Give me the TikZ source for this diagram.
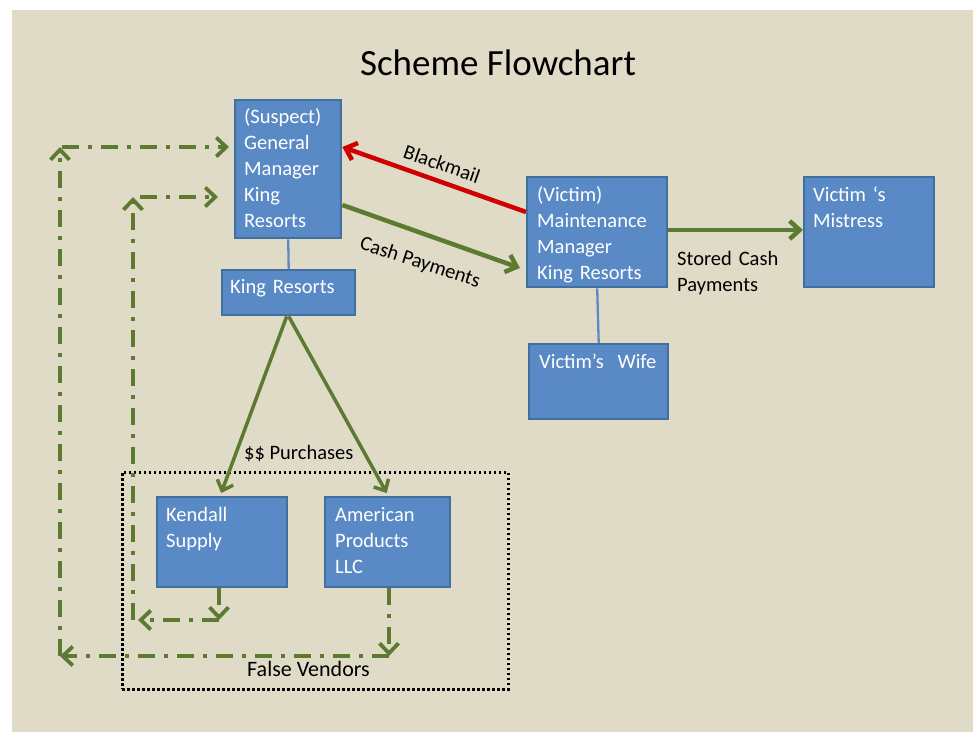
\documentclass[tikz,border=0pt]{standalone}
\usepackage{fontspec}
\setmainfont{Carlito}
\usetikzlibrary{arrows.meta}
\definecolor{bg}{HTML}{E0DBC7}
\definecolor{boxfill}{HTML}{5A8AC6}
\definecolor{boxline}{HTML}{41709F}
\definecolor{linkblue}{HTML}{5B8BC6}
\definecolor{grn}{HTML}{5C7A30}
\definecolor{redarr}{HTML}{D00000}
\begin{document}
\begin{tikzpicture}[x=1pt,y=-1pt,
  box/.style={draw=boxline,line width=2.4pt,fill=boxfill,anchor=north west,inner sep=0pt},
  boxtext/.style={anchor=base west,inner sep=0pt,text=white,font=\fontsize{20.5}{26}\selectfont,text width=#1,align=left},
  labeltext/.style={inner sep=0pt,text=black,font=\fontsize{20.5}{26}\selectfont},
  link/.style={draw=linkblue,line width=2.3pt},
  flow/.style={draw=grn,line width=4.5pt,-{Straight Barb[length=10pt,width=18pt]}},
  buy/.style={draw=grn,line width=3.5pt,-{Straight Barb[length=9pt,width=17pt]}},
  threat/.style={draw=redarr,line width=4.5pt,-{Straight Barb[length=10pt,width=18pt]}},
  loopback/.style={draw=grn,line width=3.8pt,dash pattern=on 17pt off 9pt on 4pt off 9pt,-{Straight Barb[length=10pt,width=19pt]}},
  frame/.style={draw=black,line width=2.6pt,dash pattern=on 2.5pt off 2.5pt,anchor=north west,inner sep=0pt}
]
\useasboundingbox (0,0) rectangle (973,732);
\fill[white] (0,0) rectangle (973,732);
\fill[bg] (12,10) rectangle (973,732);

% title
\node[font=\fontsize{37}{42}\selectfont,anchor=base,inner sep=0pt] (title) at (498,75) {Scheme Flowchart};

% frame of false vendors
\node[frame,minimum width=386pt,minimum height=217pt] (fv) at (121,471) {};

% boxes
\node[box,minimum width=106pt,minimum height=138pt] (gm) at (234,99) {};
\node[boxtext=96pt] (gmt) at (244,123) {(Suspect)\\General\\Manager\\King\\Resorts};
\node[box,minimum width=133pt,minimum height=45pt] (kr) at (221,269) {};
\node[boxtext=124pt] (krt) at (230,293) {King Resorts};
\node[box,minimum width=140pt,minimum height=110pt] (vic) at (526,176) {};
\node[boxtext=128pt] (vict) at (537,201) {(Victim)\\Maintenance\\Manager\\King Resorts};
\node[box,minimum width=130pt,minimum height=110pt] (mis) at (803,176) {};
\node[boxtext=118pt] (mist) at (813,201) {Victim ‘s\\Mistress};
\node[box,minimum width=139pt,minimum height=75pt] (wife) at (528,343) {};
\node[boxtext=128pt] (wifet) at (539,368) {Victim’s~~Wife};
\node[box,minimum width=130pt,minimum height=90pt] (ken) at (156,496) {};
\node[boxtext=118pt] (kent) at (166,521) {Kendall\\Supply};
\node[box,minimum width=125pt,minimum height=90pt] (am) at (324,496) {};
\node[boxtext=114pt] (amt) at (335,521) {American\\Products\\LLC};

% labels
\node[labeltext,rotate=-19] (bm) at (442,164) {Blackmail};
\node[labeltext,rotate=-18] (cp) at (420,263) {Cash Payments};
\node[labeltext,anchor=base west,text width=120pt,align=left] (sc) at (677,265) {Stored Cash\\Payments};
\node[labeltext,anchor=base west] (pur) at (244,459) {\$\$ Purchases};
\node[labeltext,anchor=base west,font=\fontsize{22}{26}\selectfont] (fvt) at (247,676) {False Vendors};

% connectors
\draw[link] (gm.south) -- (kr.north);
\draw[link] (vic.south) -- (wife.north);
\draw[threat] ([yshift=-36pt]vic.north west) -- ([yshift=-48pt]gm.north east);
\draw[flow] ([yshift=-106pt]gm.north east) -- ([xshift=-6pt,yshift=-92pt]vic.north west);
\draw[flow] ([yshift=-54pt]vic.north east) -- ([yshift=-54pt]mis.north west);
\draw[buy] ([xshift=-2pt]kr.south) -- ([xshift=-1pt,yshift=3pt]ken.north);
\draw[buy] (kr.south) -- ([xshift=-1pt,yshift=3pt]am.north);

% dash-dot loops
\coordinate (ia) at (219,620);
\coordinate (ib) at (133,620);
\coordinate (ic) at (133,197);
\coordinate (oa) at (389,656);
\coordinate (ob) at (60,656);
\coordinate (oc) at (60,147);
\draw[loopback] (ken.south -| ia) -- (ia);
\draw[loopback] (ia) -- ([xshift=5pt]ib);
\draw[loopback] (ib) -- (ic);
\draw[loopback] ([xshift=7pt]ic) -- ([xshift=-16pt]ic -| gm.west);
\draw[loopback] (am.south -| oa) -- (oa);
\draw[loopback] (oa) -- (ob);
\draw[loopback] (ob) -- (oc);
\draw[loopback] ([xshift=2pt]oc) -- ([xshift=-5pt]oc -| gm.west);
\end{tikzpicture}
\end{document}
